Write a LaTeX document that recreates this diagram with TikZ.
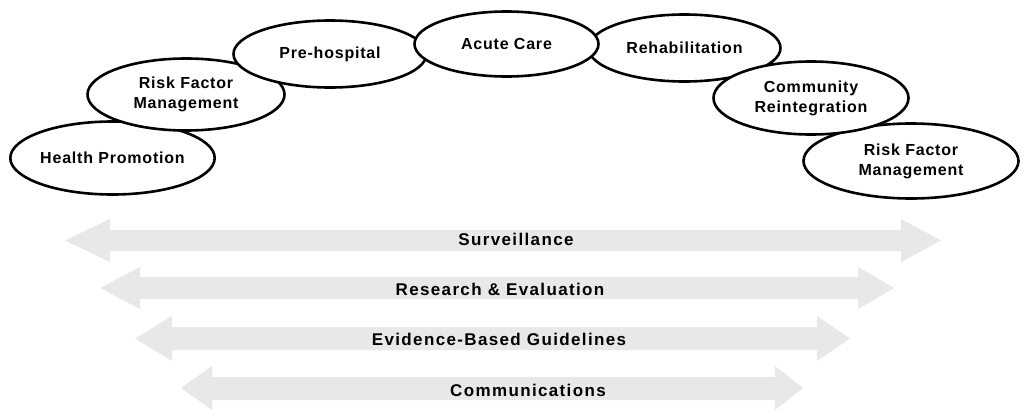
\documentclass[tikz,border=0pt]{standalone}
\usepackage{fontspec}
\setmainfont{Liberation Sans}
\newfontfamily\ellfont[LetterSpace=5]{Liberation Sans Bold}
\newfontfamily\arrfont[LetterSpace=8]{Liberation Sans Bold}
\usetikzlibrary{shapes.geometric}
\definecolor{barfill}{RGB}{232,232,232}
\tikzset{
  stage/.style={ellipse, draw=black, fill=white, line width=2.6pt, inner sep=0pt,
    align=center, font=\ellfont\fontsize{16}{20}\selectfont},
  barlabel/.style={inner sep=0pt, font=\arrfont\fontsize{17}{20}\selectfont},
  bar/.style={fill=barfill, draw=none}
}
\begin{document}
\begin{tikzpicture}[x=1pt,y=-1pt]
\useasboundingbox (0,0) rectangle (1026,410);
% bars (double-headed arrows)
\fill[bar] (65,240.5) -- (110,219) -- (110,230) -- (901,230) -- (901,219) -- (941,240.5) -- (901,262) -- (901,251) -- (110,251) -- (110,262) -- cycle;
\fill[bar] (100,288) -- (140,267) -- (140,277) -- (858,277) -- (858,267) -- (894,288) -- (858,309) -- (858,299) -- (140,299) -- (140,309) -- cycle;
\fill[bar] (135,338.5) -- (172,316) -- (172,327) -- (817,327) -- (817,316) -- (850,338.5) -- (817,361) -- (817,350) -- (172,350) -- (172,361) -- cycle;
\fill[bar] (181,388) -- (212,366) -- (212,377) -- (775,377) -- (775,366) -- (803,388) -- (775,410) -- (775,400) -- (212,400) -- (212,410) -- cycle;
\node[barlabel] (surv) at (516,239) {Surveillance};
\node[barlabel] (res) at (500,289) {Research \& Evaluation};
\node[barlabel] (evid) at (499,339.5) {Evidence-Based Guidelines};
\node[barlabel] (comm) at (528,390) {Communications};
% stages
\node[stage, minimum width=196pt, minimum height=73pt] (hp) at (112.5,158) {Health Promotion};
\node[stage, minimum width=197pt, minimum height=72pt] (rfml) at (186,94.5) {Risk Factor\\Management};
\node[stage, minimum width=193pt, minimum height=67pt] (preh) at (330,54) {Pre-hospital};
\node[stage, minimum width=192pt, minimum height=67pt] (rehab) at (684.5,48) {Rehabilitation};
\node[stage, minimum width=215pt, minimum height=75pt] (rfmr) at (911,161) {Risk Factor\\Management};
\node[stage, minimum width=195pt, minimum height=73pt] (cri) at (811,98) {Community\\Reintegration};
\node[stage, minimum width=184pt, minimum height=65pt] (acute) at (506.5,44) {Acute Care};
\end{tikzpicture}
\end{document}
